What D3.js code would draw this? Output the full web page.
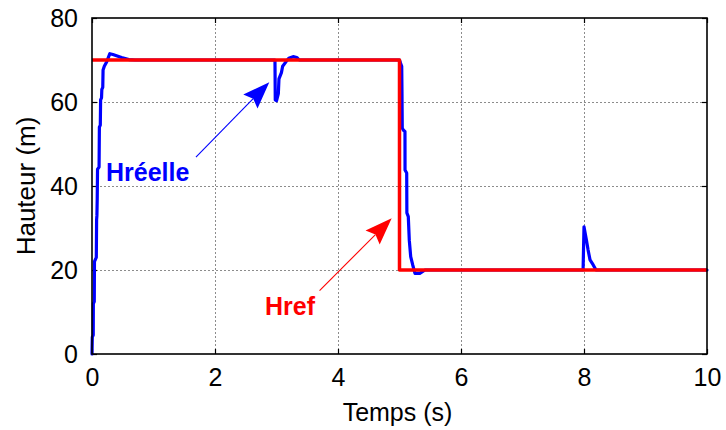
<!DOCTYPE html>
<html>
<head>
<meta charset="utf-8">
<script src="https://cdn.jsdelivr.net/npm/d3@7"></script>
<style>
  html, body { margin: 0; padding: 0; background: #fff; }
  svg { display: block; }
  text { font-family: Arial, "Liberation Sans", Helvetica, sans-serif; }
</style>
</head>
<body>
<svg id="chart" width="726" height="430"></svg>
<script>
// Measured tank level (Hréelle) over time
const hTime = [
  0, 0.005, 0.02, 0.022, 0.037, 0.04, 0.07, 0.075, 0.08, 0.085, 0.09, 0.115,
  0.12, 0.135, 0.14, 0.155, 0.16, 0.175, 0.18, 0.2, 0.24, 0.29, 0.34, 0.48,
  0.6, 0.7, 2.975, 2.98, 3.0, 3.03, 3.04, 3.08, 3.1, 3.15, 3.2, 3.27, 3.33,
  3.37, 5.0, 5.01, 5.036, 5.04, 5.045, 5.062, 5.089, 5.09, 5.117, 5.12, 5.143,
  5.159, 5.182, 5.215, 5.252, 5.33, 5.415, 7.985, 8.0, 8.04, 8.066, 8.098,
  8.15, 8.195, 10
];
const hValue = [
  0, 4, 4.5, 12, 12.5, 22, 23, 32, 33, 37, 44, 44.5,
  54, 54.5, 60.5, 61, 63, 63.5, 67.6, 68.5, 69.6, 71.5, 71.3, 70.6,
  70.1, 70, 70, 60.5, 60.3, 62, 65.5, 67, 68.5, 69.5, 70.4, 70.8, 70.6,
  70, 70, 69.5, 68.5, 62.9, 53.8, 53.3, 53, 43.8, 43.1, 33.6, 32.7,
  27.1, 23.2, 21.2, 19.2, 19.2, 20, 20, 30.3, 27.1, 24.8, 22.4,
  21.2, 20, 20
];

// Reference level (Href): step from 70 m down to 20 m at t = 5 s
const refTime = [0, 5, 5, 10];
const refValue = [70, 70, 20, 20];

// Axis ticks
const xTicks = [0, 2, 4, 6, 8, 10];
const yTicks = [0, 20, 40, 60, 80];

// Annotation labels and arrows: [text x, text y], [tail], [tip] in data units
const labelReel = { text: "Hréelle", at: [0.228, 41.3], tail: [1.69, 46.9], tip: [2.883, 64.7] };
const labelRef  = { text: "Href",    at: [2.813, 9.3],  tail: [3.70, 15.1], tip: [4.873, 32.3] };

const svg = d3.select("#chart");
const margin = { left: 92, right: 19, top: 18, bottom: 76 };
const W = 726, H = 430;

const x = d3.scaleLinear().domain([0, 10]).range([margin.left, W - margin.right]);
const y = d3.scaleLinear().domain([0, 80]).range([H - margin.bottom, margin.top]);

const x0 = x.range()[0], x1 = x.range()[1];
const y0 = y.range()[0], y1 = y.range()[1];

svg.append("defs").append("clipPath").attr("id", "plot-clip")
  .append("rect").attr("x", x0 - 2).attr("y", y1 - 4).attr("width", x1 - x0 + 4).attr("height", y0 - y1 + 6);

// Dotted grid
const grid = svg.append("g").attr("stroke", "#8c8c8c").attr("stroke-width", 1).attr("stroke-dasharray", "2,2");
grid.selectAll("line.gx").data(xTicks.slice(1, -1)).join("line")
  .attr("x1", d => Math.round(x(d)) + 0.5).attr("x2", d => Math.round(x(d)) + 0.5)
  .attr("y1", y0).attr("y2", y1);
grid.selectAll("line.gy").data(yTicks.slice(1, -1)).join("line")
  .attr("y1", d => Math.round(y(d)) + 0.5).attr("y2", d => Math.round(y(d)) + 0.5)
  .attr("x1", x0).attr("x2", x1);

// Axes (inward ticks on all four sides, MATLAB-style box)
const tickLen = 5;
const fontSize = 25;
const axBottom = d3.axisBottom(x).tickValues(xTicks).tickSize(-tickLen).tickPadding(14).tickFormat(d3.format("d"));
const axTop = d3.axisTop(x).tickValues(xTicks).tickSize(-tickLen).tickFormat("");
const axLeft = d3.axisLeft(y).tickValues(yTicks).tickSize(-tickLen).tickPadding(14).tickFormat(d3.format("d"));
const axRight = d3.axisRight(y).tickValues(yTicks).tickSize(-tickLen).tickFormat("");

function styleAxis(g) {
  g.select(".domain").remove();
  g.selectAll(".tick line").attr("stroke", "#000").attr("stroke-width", 1.2);
  g.selectAll(".tick text").attr("fill", "#000").attr("font-size", fontSize)
    .attr("font-family", "Arial, 'Liberation Sans', sans-serif");
}
svg.append("g").attr("transform", `translate(0,${y0})`).call(axBottom).call(styleAxis);
svg.append("g").attr("transform", `translate(0,${y1})`).call(axTop).call(styleAxis);
svg.append("g").attr("transform", `translate(${x0},0)`).call(axLeft).call(styleAxis);
svg.append("g").attr("transform", `translate(${x1},0)`).call(axRight).call(styleAxis);

// Curves
const line = d3.line().x(d => x(d[0])).y(d => y(d[1]));
const plot = svg.append("g").attr("clip-path", "url(#plot-clip)");

plot.append("path")
  .datum(hTime.map((t, i) => [t, hValue[i]]))
  .attr("d", line).attr("fill", "none").attr("stroke", "#0000ff")
  .attr("stroke-width", 3.2).attr("stroke-linejoin", "round").attr("stroke-linecap", "round");

plot.append("path")
  .datum(refTime.map((t, i) => [t, refValue[i]]))
  .attr("d", line).attr("fill", "none").attr("stroke", "#ff0000")
  .attr("stroke-width", 3.5).attr("stroke-linejoin", "round");

// Frame
svg.append("rect").attr("x", x0).attr("y", y1).attr("width", x1 - x0).attr("height", y0 - y1)
  .attr("fill", "none").attr("stroke", "#000").attr("stroke-width", 1.6);

// Axis titles
svg.append("text").attr("x", (x0 + x1) / 2 - 2).attr("y", 421)
  .attr("text-anchor", "middle").attr("font-size", fontSize).attr("fill", "#000").text("Temps (s)");
svg.append("text").attr("transform", `translate(35,${(y0 + y1) / 2}) rotate(-90)`)
  .attr("text-anchor", "middle").attr("font-size", fontSize + 1).attr("fill", "#000").text("Hauteur (m)");

// Annotations with arrows
function annotate(lab, color) {
  svg.append("text").attr("x", x(lab.at[0])).attr("y", y(lab.at[1]))
    .attr("font-size", fontSize).attr("font-weight", "bold").attr("fill", color).text(lab.text);
  const tx = x(lab.tail[0]), ty = y(lab.tail[1]);
  const hx = x(lab.tip[0]), hy = y(lab.tip[1]);
  const ang = Math.atan2(hy - ty, hx - tx);
  const len = 27, half = 10, notch = 4;
  const ux = Math.cos(ang), uy = Math.sin(ang);
  const bx = hx - ux * len, by = hy - uy * len;
  svg.append("line").attr("x1", tx).attr("y1", ty).attr("x2", bx + ux * notch).attr("y2", by + uy * notch)
    .attr("stroke", color).attr("stroke-width", 1.1);
  const pts = [
    [hx, hy],
    [bx - uy * half, by + ux * half],
    [bx + ux * notch, by + uy * notch],
    [bx + uy * half, by - ux * half]
  ];
  svg.append("path").attr("d", "M" + pts.map(p => p.join(",")).join("L") + "Z").attr("fill", color);
}
annotate(labelReel, "#0000ff");
annotate(labelRef, "#ff0000");
</script>
</body>
</html>
